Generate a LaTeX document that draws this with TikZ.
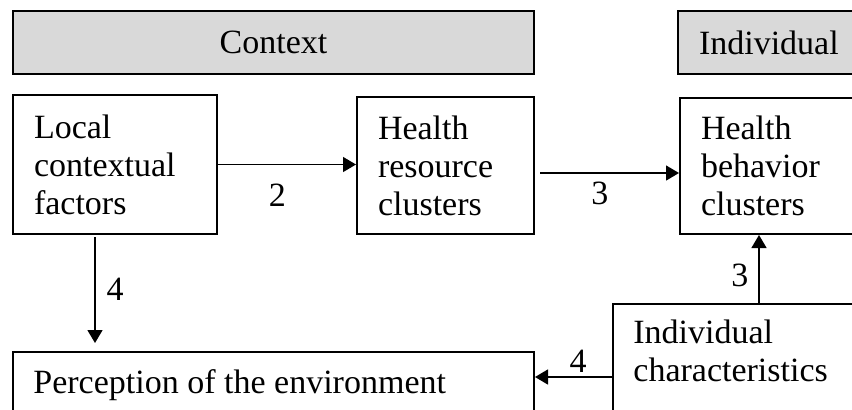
\documentclass[tikz,border=0pt]{standalone}
\usepackage{fontspec}
\setmainfont{Liberation Serif}
\usetikzlibrary{arrows.meta,positioning}

\begin{document}
\begin{tikzpicture}[x=0.5pt,y=-0.5pt,
            box/.style={draw, line width=1pt, anchor=north west, inner xsep=10.5pt, inner ysep=0pt, align=left, font=\fontsize{17}{19}\selectfont},
            head/.style={box, fill=black!15},
            txt/.style={inner sep=0pt, anchor=north west, align=left, font=\fontsize{17}{19}\selectfont},
            num/.style={inner sep=0pt, font=\fontsize{17}{19}\selectfont},
            arr/.style={line width=0.7pt, -{Triangle[length=6.5pt,width=7.5pt]}}]
            \useasboundingbox (0,0) rectangle (852,409);

            \node[head, align=center, text width=239.5pt, minimum height=31.5pt] at (12,10) (ctx) {Context};
            \node[head, text width=74pt, minimum height=31.5pt] at (677,10) (indh) {Individual};

            \node[box, text width=81pt, minimum height=69.5pt] at (12,94) (local) {Local\\contextual\\factors};
            \node[box, text width=67.5pt, minimum height=68.5pt] at (356,96) (res) {Health\\resource\\clusters};
            \node[box, text width=76pt, minimum height=68pt] at (679,97) (beh) {Health\\behavior\\clusters};

            \node[box, minimum width=260.5pt, minimum height=40pt] at (12,351) (perc) {};
            \node[txt, below right=8.9pt and 10.5pt of perc.north west] (perctxt) {Perception of the environment};
            \node[box, minimum width=130pt, minimum height=60pt] at (612,303) (chars) {};
            \node[txt, below right=8.4pt and 10.5pt of chars.north west] (charstxt) {Individual\\characteristics};

            \draw[arr] (local.east) -- node[num, below=9.5pt, pos=.43] (l2) {2} (local.east -| res.west);
            \draw[arr, shorten <=2.5pt] ([yshift=-3.75pt]res.east) -- node[num, below=4pt, pos=.45] (l3a) {3} ([yshift=-3.75pt]res.east -| beh.west);
            \draw[arr, shorten <=1pt, shorten >=4pt] ([xshift=41.5pt]local.south west) -- node[num, right=5.5pt, pos=.47] (l4a) {4} ([xshift=41.5pt]local.south west |- perc.north);
            \draw[arr] ([xshift=73.5pt]chars.north west) -- node[num, left=5pt, pos=.4] (l3b) {3} ([xshift=73.5pt]chars.north west |- beh.south);
            \draw[arr] ([yshift=-37pt]chars.north west) -- node[num, above=2pt, pos=.44] (l4b) {4} ([yshift=-37pt]chars.north west -| perc.east);
        \end{tikzpicture}
\end{document}
